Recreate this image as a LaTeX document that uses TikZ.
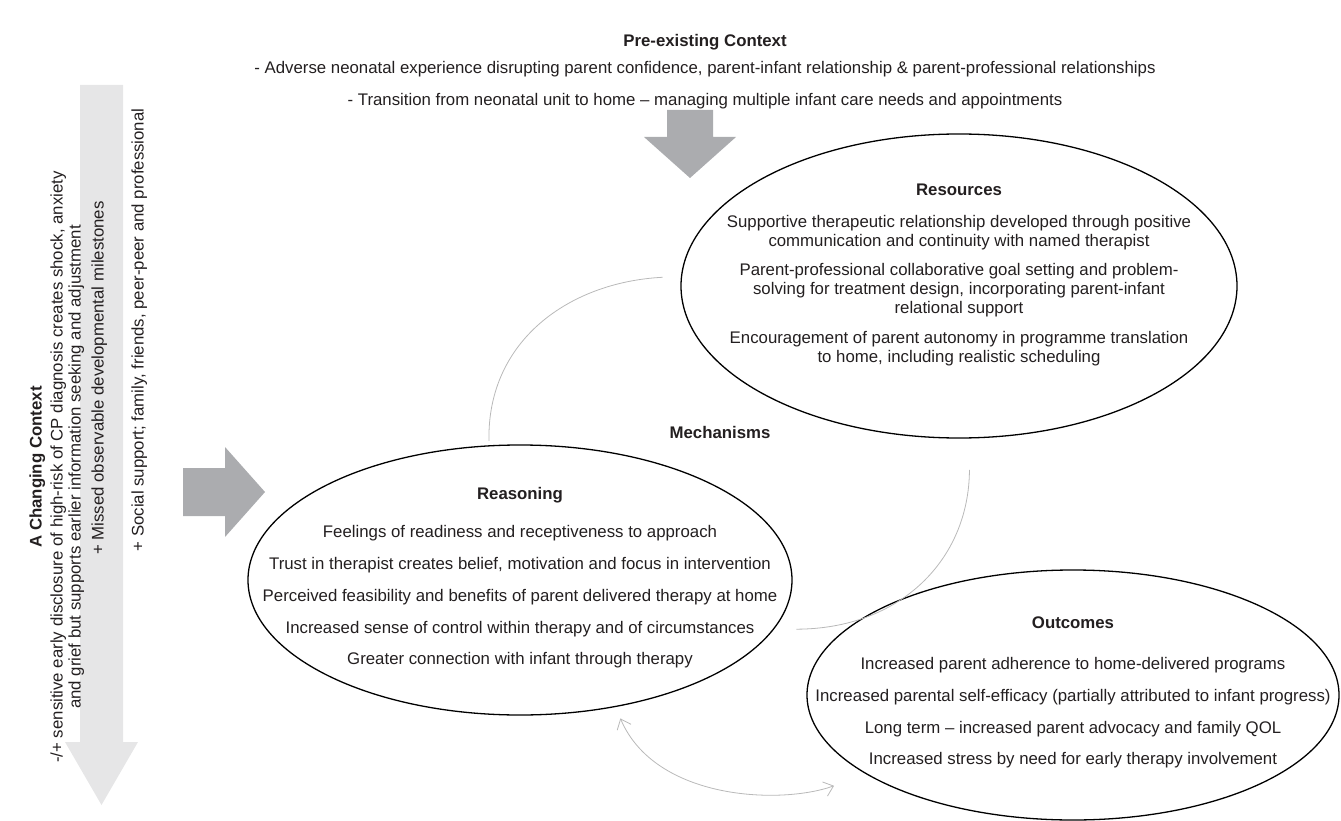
\documentclass[tikz,border=0pt]{standalone}
\usepackage{fontspec}
\setmainfont{Liberation Sans}
\usetikzlibrary{arrows.meta,shapes.geometric}

\definecolor{arrowgrey}{RGB}{171,172,175}
\definecolor{shaftgrey}{RGB}{230,230,231}
\definecolor{linkgrey}{RGB}{185,185,185}
\definecolor{inkgrey}{RGB}{35,31,32}

\tikzset{
    txt/.style={font=\fontsize{16.8}{19}\selectfont, text=inkgrey, inner sep=0pt, anchor=mid},
    hdr/.style={txt, font=\fontsize{16.8}{19}\selectfont\bfseries},
    vtxt/.style={txt, rotate=90},
    oval/.style={draw=black, line width=1.3pt, ellipse, inner sep=0pt, outer sep=0pt},
    link/.style={draw=linkgrey, line width=0.8pt},
}

\begin{document}
\begin{tikzpicture}[x=1pt, y=-1pt]

        \useasboundingbox (0,0) rectangle (1341,821);

        % context arrows
        \fill[shaftgrey] (80,85) -- (123,85) -- (123,742) -- (138,742) -- (101.5,805) -- (65,742) -- (80,742) -- cycle;
        \fill[arrowgrey] (667,110) -- (713,110) -- (713,137) -- (736,137) -- (690,178) -- (644,137) -- (667,137) -- cycle;
        \fill[arrowgrey] (183,468) -- (225,468) -- (225,447) -- (265,492) -- (225,537) -- (225,516) -- (183,516) -- cycle;

        % pre-existing context
        \node[hdr] (pretitle) at (705, 44) {Pre-existing Context};
        \node[txt] (prea) at (705, 71) {- Adverse neonatal experience disrupting parent confidence, parent-infant relationship \& parent-professional relationships};
        \node[txt] (preb) at (705, 103) {- Transition from neonatal unit to home – managing multiple infant care needs and appointments};

        % changing context
        \node[vtxt, font=\fontsize{16.8}{19}\selectfont\bfseries] (chgtitle) at (39, 467) {A Changing Context};
        \node[vtxt] (chga) at (60, 467) {-/+ sensitive early disclosure of high-risk of CP diagnosis creates shock, anxiety};
        \node[vtxt] (chgb) at (78, 467) {and grief but supports earlier information seeking and adjustment};
        \node[vtxt] (chgc) at (101, 378) {+ Missed observable developmental milestones};
        \node[vtxt] (chgd) at (141, 330) {+ Social support; family, friends, peer-peer and professional};

        % ovals
        \node[oval, minimum width=556, minimum height=304] (res) at (959, 286) {};
        \node[oval, minimum width=544, minimum height=270] (rea) at (520, 580) {};
        \node[oval, minimum width=532, minimum height=250] (out) at (1073, 695) {};

        % resources
        \node[hdr] (restitle) at (959, 193) {Resources};
        \node[txt] (resa) at (959, 225) {Supportive therapeutic relationship developed through positive};
        \node[txt] (resb) at (959, 244) {communication and continuity with named therapist};
        \node[txt] (resc) at (959, 273) {Parent-professional collaborative goal setting and problem-};
        \node[txt] (resd) at (959, 292) {solving for treatment design, incorporating parent-infant};
        \node[txt] (rese) at (959, 311) {relational support};
        \node[txt] (resf) at (959, 341) {Encouragement of parent autonomy in programme translation};
        \node[txt] (resg) at (959, 360) {to home, including realistic scheduling};

        \node[hdr] (mech) at (720, 436) {Mechanisms};

        % reasoning
        \node[hdr] (reatitle) at (520, 497) {Reasoning};
        \node[txt] (reaa) at (520, 535) {Feelings of readiness and receptiveness to approach};
        \node[txt] (reab) at (520, 567) {Trust in therapist creates belief, motivation and focus in intervention};
        \node[txt] (reac) at (520, 599) {Perceived feasibility and benefits of parent delivered therapy at home};
        \node[txt] (read) at (520, 631) {Increased sense of control within therapy and of circumstances};
        \node[txt] (reae) at (520, 662) {Greater connection with infant through therapy};

        % outcomes
        \node[hdr] (outtitle) at (1073, 626) {Outcomes};
        \node[txt] (outa) at (1073, 667) {Increased parent adherence to home-delivered programs};
        \node[txt] (outb) at (1073, 699) {Increased parental self-efficacy (partially attributed to infant progress)};
        \node[txt] (outc) at (1073, 731) {Long term – increased parent advocacy and family QOL};
        \node[txt] (outd) at (1073, 762) {Increased stress by need for early therapy involvement};

        % links
        \draw[link, shorten <=5pt, shorten >=19pt] (rea.103.8) .. controls (487,340) and (570,282) .. (res.178);
        \draw[link, shorten <=32pt, shorten >=23pt] (res.-86.2) .. controls (969,560) and (900,629) .. (rea.-11);
        \draw[link, {Straight Barb[length=9pt,width=15pt]}-{Straight Barb[length=9pt,width=15pt]}, shorten <=13pt, shorten >=35pt]
            (rea.-53.8) .. controls (655,800) and (780,805) .. (out.201.2);

\end{tikzpicture}
\end{document}
